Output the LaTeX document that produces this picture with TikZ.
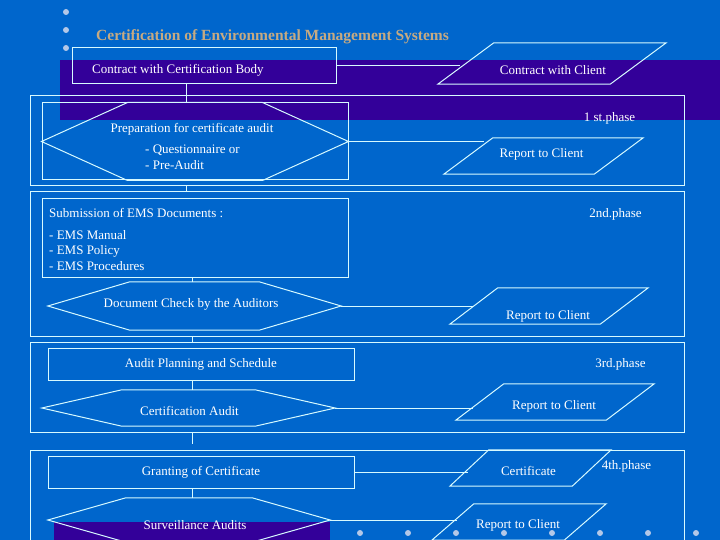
\documentclass[tikz,border=0pt]{standalone}
\usepackage{fontspec}
\setmainfont{Liberation Serif}
\usetikzlibrary{positioning,calc}
\definecolor{slideblue}{RGB}{0,102,204}
\definecolor{bandpurple}{RGB}{51,0,153}
\definecolor{linecyan}{RGB}{215,250,255}
\definecolor{titletan}{RGB}{198,170,130}
\definecolor{dotgray}{RGB}{180,200,232}

\tikzset{
  phasebox/.style={draw=linecyan, line width=1pt, inner sep=0pt},
  flowbox/.style={draw=linecyan, line width=1pt, inner sep=0pt, text=white, font=\fontsize{13}{15.5}\selectfont},
  hexbox/.style={inner sep=0pt, text=white, font=\fontsize{13}{15.5}\selectfont},
  parabox/.style={inner sep=0pt, text=white, font=\fontsize{13}{15.5}\selectfont},
  plaintext/.style={inner sep=0pt, text=white, font=\fontsize{13}{15.5}\selectfont},
  titletext/.style={inner sep=0pt, text=titletan, font=\fontsize{15.5}{18}\selectfont\bfseries},
  stepline/.style={draw=linecyan, line width=1pt},
  bulletdot/.style={circle, fill=dotgray, minimum size=6pt, inner sep=0pt}
}

% outlines drawn from the anchors of an empty node
\newcommand{\hexoutline}[2]{%
  \draw[stepline] (#1.west) -- ($(#1.north west)+(#2,0)$) -- ($(#1.north east)-(#2,0)$)
    -- (#1.east) -- ($(#1.south east)-(#2,0)$) -- ($(#1.south west)+(#2,0)$) -- cycle;}
\newcommand{\paraoutline}[2]{%
  \draw[stepline] (#1.south west) -- ($(#1.north west)+(#2,0)$) -- (#1.north east)
    -- ($(#1.south east)-(#2,0)$) -- cycle;}

\begin{document}
\begin{tikzpicture}[x=1pt,y=-1pt]
  % Slide
  \useasboundingbox (0,0) rectangle (720,540);
  \clip (0,0) rectangle (720,540);
  \fill[slideblue] (0,0) rectangle (720,540);
  \fill[bandpurple] (60,60) rectangle (720,120);
  \fill[bandpurple] (54,522) rectangle (330,540);

  % Bullets
  \foreach \y in {12,30,48}
    \node[bulletdot] (topdot\y) at (66,\y) {};
  \foreach \x in {360,408,...,696}
    \node[bulletdot] (lowdot\x) at (\x,533) {};

  % Title
  \node[titletext, anchor=west] (title) at (96,37) {Certification of Environmental Management Systems};

  % Phase frames
  \node[phasebox, minimum width=654pt, minimum height=90pt] (phase1) at (357,141) {};
  \node[phasebox, minimum width=654pt, minimum height=144pt] (phase2) at (357,264) {};
  \node[phasebox, minimum width=654pt, minimum height=90pt] (phase3) at (357,387) {};
  \node[phasebox, minimum width=654pt, minimum height=120pt] (phase4) at (357,510) {};
  \node[plaintext] (ph1lbl) at (609.5,118) {1 st.phase};
  \node[plaintext] (ph2lbl) at (615.5,214) {2nd.phase};
  \node[plaintext] (ph3lbl) at (620.5,364) {3rd.phase};
  \node[plaintext] (ph4lbl) at (626.5,466) {4th.phase};

  % Contract
  \node[flowbox, minimum width=264pt, minimum height=36pt] (cbody) at (204,66) {};
  \node[plaintext, anchor=west] (cbodytxt) at (92,70) {Contract with Certification Body};
  \node[parabox, minimum width=228pt, minimum height=41pt] (client) at (552,63.5) {};
  \paraoutline{client}{56}
  \node[plaintext] (clienttxt) at (553,70) {Contract with Client};

  % 1st phase
  \node[flowbox, minimum width=306pt, minimum height=77pt] (prep) at (195,141.5) {};
  \hexoutline{prep}{86}
  \node[plaintext] (preptxt) at (192,129) {Preparation for certificate audit};
  \node[plaintext, anchor=north west, align=left] (preplist) at (145,145) {- Questionnaire or\\- Pre-Audit};
  \node[parabox, minimum width=199pt, minimum height=36pt] (rep1) at (543.5,156) {};
  \paraoutline{rep1}{49}
  \node[plaintext] (rep1txt) at (541.5,154) {Report to Client};

  % 2nd phase
  \node[flowbox, minimum width=306pt, minimum height=78pt] (docs) at (195,238) {};
  \node[plaintext, anchor=west] (docstxt) at (49,213) {Submission of EMS Documents :};
  \node[plaintext, anchor=north west, align=left] (doclist) at (49,230) {- EMS Manual\\- EMS Policy\\- EMS Procedures};
  \node[hexbox, minimum width=293pt, minimum height=48pt] (check) at (194.5,306) {};
  \hexoutline{check}{82}
  \node[plaintext] (checktxt) at (191,304) {Document Check by the Auditors};
  \node[parabox, minimum width=198pt, minimum height=36pt] (rep2) at (549,306) {};
  \paraoutline{rep2}{48}
  \node[plaintext] (rep2txt) at (548,316) {Report to Client};

  % 3rd phase
  \node[flowbox, minimum width=306pt, minimum height=32pt] (plan) at (201,364) {Audit Planning and Schedule};
  \node[hexbox, minimum width=293pt, minimum height=36pt] (audit) at (188.5,408) {};
  \hexoutline{audit}{80}
  \node[plaintext] (audittxt) at (189.5,411) {Certification Audit};
  \node[parabox, minimum width=198pt, minimum height=36pt] (rep3) at (555,402) {};
  \paraoutline{rep3}{48}
  \node[plaintext] (rep3txt) at (554,406) {Report to Client};

  % 4th phase
  \node[flowbox, minimum width=306pt, minimum height=32pt] (grant) at (201,472) {Granting of Certificate};
  \node[hexbox, minimum width=282pt, minimum height=44pt] (surv) at (189,520) {};
  \hexoutline{surv}{78}
  \node[plaintext] (survtxt) at (195,525) {Surveillance Audits};
  \node[parabox, minimum width=161pt, minimum height=36pt] (cert) at (530.5,468) {};
  \paraoutline{cert}{39}
  \node[plaintext] (certtxt) at (528.5,471) {Certificate};
  \node[parabox, minimum width=174pt, minimum height=36pt] (rep4) at (519,522) {};
  \paraoutline{rep4}{42}
  \node[plaintext] (rep4txt) at (518,525) {Report to Client};

  % Connectors
  \coordinate (spinetop) at (186,0);
  \coordinate (spine) at (192,0);
  \draw[stepline] (spinetop |- cbody.south) -- (spinetop |- prep.north);
  \draw[stepline] (spinetop |- phase1.south) -- (spinetop |- phase2.north);
  \draw[stepline] (spine |- docs.south) -- (spine |- check.north);
  \draw[stepline] (spine |- phase2.south) -- (spine |- phase3.north);
  \draw[stepline] (spine |- plan.south) -- (spine |- audit.north);
  \draw[stepline] (spine |- phase3.south) -- ($(spine |- phase4.north)+(0,-6)$);
  \draw[stepline] (spine |- grant.south) -- (spine |- surv.north);

  \draw[stepline] (cbody.east) -- ($(cbody.east -| client.west)+(22,0)$);
  \draw[stepline] (prep.east) -- ($(prep.east -| rep1.west)+(40,0)$);
  \draw[stepline] (check.east) -- ($(check.east -| rep2.west)+(23,0)$);
  \draw[stepline] (audit.east) -- ($(audit.east -| rep3.west)+(17,0)$);
  \draw[stepline] (grant.east) -- ($(grant.east -| cert.west)+(18,0)$);
  \draw[stepline] (surv.east) -- ($(surv.east -| rep4.west)+(25,0)$);
\end{tikzpicture}
\end{document}
